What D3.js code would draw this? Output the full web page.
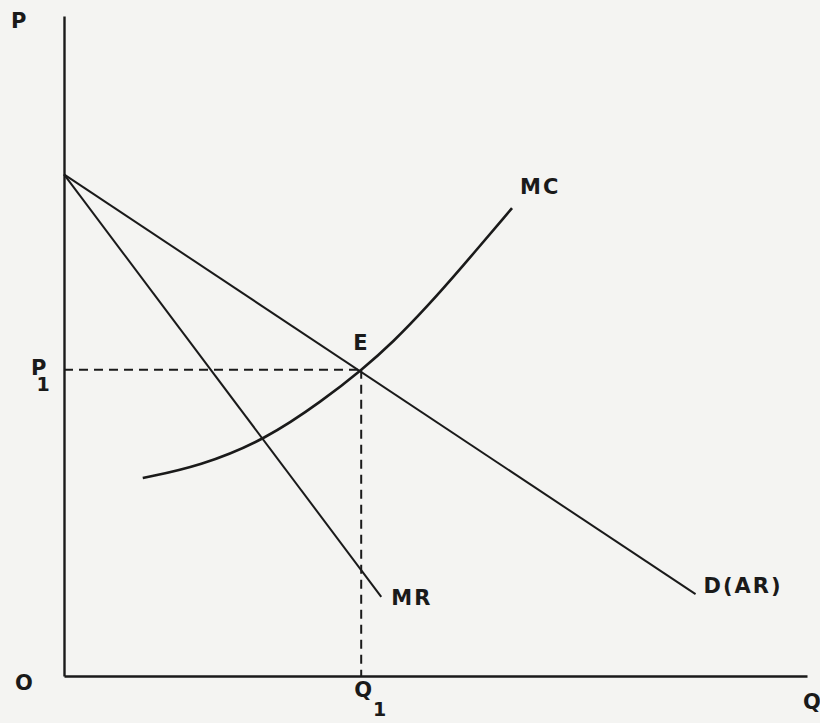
<!DOCTYPE html>
<meta charset="utf-8">
<html>
<head>
    <title>Monopoly equilibrium</title>
    <style>
        body { margin: 0; background: #f4f4f2; }
        svg { display: block; }
        svg text {
            font-family: "DejaVu Sans", Arial, sans-serif;
            font-weight: bold;
            font-size: 21px;
            letter-spacing: 2px;
            fill: #1a1a1a;
        }
    </style>
    <script src="https://d3js.org/d3.v7.min.js"></script>
</head>
<body>
<div id="chart"></div>
<script>
    // demand / AR line: price intercept and end point (Q, P)
    var demand = [[0, 76], [85, 12.4]];
    // marginal revenue line
    var mr = [[0, 76], [42.7, 12]];
    // marginal cost curve
    var mcQ = [10.6, 18.3, 27.1, 34.9, 40.1, 44.3, 48.9, 53.3, 60.3];
    var mcP = [30.0, 31.8, 35.8, 41.8, 46.4, 50.6, 56.0, 61.6, 70.9];
    // equilibrium
    var Q1 = 40, P1 = 46.4;

    var width = 820, height = 723;

    var svg = d3.select("#chart")
        .append("svg")
        .attr("width", width)
        .attr("height", height);

    var x = d3.scaleLinear().domain([0, 100]).range([64, 807]);
    var y = d3.scaleLinear().domain([0, 100]).range([676, 16]);

    // axes, no ticks
    svg.append("g")
        .attr("transform", "translate(0," + y(0) + ")")
        .call(d3.axisBottom(x).tickValues([]).tickSizeOuter(0))
        .select(".domain").attr("stroke", "#1a1a1a").attr("stroke-width", 2.4);

    svg.append("g")
        .attr("transform", "translate(" + x(0) + ",0)")
        .call(d3.axisLeft(y).tickValues([]).tickSizeOuter(0))
        .select(".domain").attr("stroke", "#1a1a1a").attr("stroke-width", 2.4);

    var line = d3.line()
        .x(d => x(d[0]))
        .y(d => y(d[1]));

    // dashed guides to P1 and Q1
    svg.append("path")
        .attr("d", line([[0, P1], [Q1, P1]]))
        .attr("fill", "none")
        .attr("stroke", "#1a1a1a")
        .attr("stroke-width", 2)
        .attr("stroke-dasharray", "9,6");

    svg.append("path")
        .attr("d", line([[Q1, P1], [Q1, 0]]))
        .attr("fill", "none")
        .attr("stroke", "#1a1a1a")
        .attr("stroke-width", 2)
        .attr("stroke-dasharray", "9,6");

    svg.append("path")
        .attr("d", line(demand))
        .attr("fill", "none")
        .attr("stroke", "#1a1a1a")
        .attr("stroke-width", 2);

    svg.append("path")
        .attr("d", line(mr))
        .attr("fill", "none")
        .attr("stroke", "#1a1a1a")
        .attr("stroke-width", 2);

    var mcPoints = mcQ.map((q, i) => [q, mcP[i]]);
    svg.append("path")
        .attr("d", d3.line().x(d => x(d[0])).y(d => y(d[1])).curve(d3.curveBasis)(mcPoints))
        .attr("fill", "none")
        .attr("stroke", "#1a1a1a")
        .attr("stroke-width", 2.6);

    // labels
    function label(tx, ty, str, sub) {
        var t = svg.append("text")
            .attr("x", tx)
            .attr("y", ty)
            .text(str);
        if (sub) {
            t.append("tspan")
                .attr("dx", sub[0])
                .attr("dy", sub[1])
                .style("font-size", "19px")
                .text(sub[2]);
        }
        return t;
    }

    label(11, 28, "P");
    label(15, 690, "O");
    label(803, 709, "Q");

    label(31, y(P1) + 5, "P", [-12, 16, "1"]);
    label(x(Q1) - 7, 697, "Q", [-1, 19, "1"]);

    label(x(Q1) - 8, 350, "E");

    var mcEnd = mcPoints[mcPoints.length - 1];
    label(x(mcEnd[0]) + 8, y(mcEnd[1]) - 14, "MC");
    label(x(mr[1][0]) + 10, y(mr[1][1]) + 8, "MR");
    label(x(demand[1][0]) + 8, y(demand[1][1]) - 1, "D(AR)");
</script>
</body>
</html>
